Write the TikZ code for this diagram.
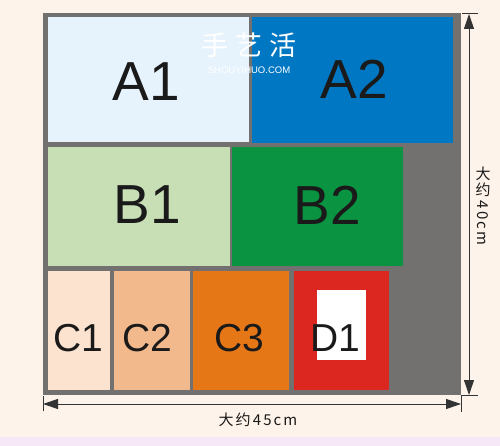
\documentclass[tikz,border=0pt]{standalone}
\usepackage{fontspec}
\setmainfont{Liberation Sans}
\newfontfamily\cjk{Noto Sans CJK SC}
\newfontfamily\cjksp{Noto Sans CJK SC}[LetterSpace=14]
\usetikzlibrary{arrows.meta}
\definecolor{bgc}{HTML}{FDF3EA}
\definecolor{bgstrip}{HTML}{F6E8F6}
\definecolor{grayc}{HTML}{737070}
\definecolor{aone}{HTML}{E6F3FC}
\definecolor{atwo}{HTML}{0077C2}
\definecolor{bone}{HTML}{C8DFB6}
\definecolor{btwo}{HTML}{0A9340}
\definecolor{cone}{HTML}{FBE3CF}
\definecolor{ctwo}{HTML}{F2B98D}
\definecolor{cthree}{HTML}{E67717}
\definecolor{done}{HTML}{DC2620}
\definecolor{txt}{HTML}{1A1A1A}
\definecolor{dimc}{HTML}{333333}
\tikzset{
  big/.style={text=txt, font=\fontsize{55}{55}\selectfont, inner sep=0pt},
  mid/.style={text=txt, font=\fontsize{39}{39}\selectfont, inner sep=0pt},
  dimline/.style={draw=dimc, line width=1pt},
  dimarrow/.style={dimline, {Triangle[length=15pt,width=10pt]}-{Triangle[length=15pt,width=10pt]}},
  dimlabel/.style={text=txt, font=\cjksp\fontsize{15}{17}\selectfont, inner sep=0pt}
}
\begin{document}
\begin{tikzpicture}[x=1pt,y=-1pt]
\useasboundingbox (0,0) rectangle (500,446);
\fill[bgc] (0,0) rectangle (500,446);
\fill[bgstrip] (0,437) rectangle (500,446);
% gray frame
\fill[grayc] (43,13) rectangle (461,395);
% blocks
\fill[aone] (48,17) rectangle (249,142);
\fill[atwo] (252,17) rectangle (453,143);
\fill[bone] (48,147) rectangle (230,266);
\fill[btwo] (232,147) rectangle (403,266);
\fill[cone] (48,271) rectangle (110,390);
\fill[ctwo] (114,271) rectangle (190,390);
\fill[cthree] (193,271) rectangle (289,390);
\fill[done] (294,271) rectangle (389,390);
\fill[white] (317,290) rectangle (366,360);
% labels
\node[big] (lA1) at (146,82) {A1};
\node[big] (lA2) at (354,79) {A2};
\node[big] (lB1) at (147,205) {B1};
\node[big] (lB2) at (327,205) {B2};
\node[mid] (lC1) at (78,338) {C1};
\node[mid] (lC2) at (147,338) {C2};
\node[mid] (lC3) at (239,338) {C3};
\node[mid] (lD1) at (335,338) {D1};
% watermark
\node[text=white, font=\cjk\fontsize{27}{27}\selectfont, inner sep=0pt] (wm) at (249,45) {手\hspace{7pt}艺\hspace{7pt}活};
\node[text=white, font=\fontsize{9.5}{9.5}\selectfont, inner sep=0pt] (wm2) at (249,70) {SHOUYIHUO.COM};
% dimension ticks
\coordinate (hl) at (43,404);
\coordinate (hr) at (461,404);
\coordinate (vt) at (469,14);
\coordinate (vb) at (469,395);
\draw[dimline, line width=0.6pt] (43,396) -- (43,411);
\draw[dimline, line width=0.6pt] (461,395) -- (461,412);
\draw[dimline, line width=0.6pt] (462,13) -- (478,13);
\draw[dimline, line width=0.6pt] (461,395) -- (478,395);
\draw[dimarrow] (hl) -- (hr);
\draw[dimarrow] (vt) -- (vb);
\node[dimlabel] (w) at (258,420) {大约45cm};
\node[dimlabel] (h1) at (483,174) {大};
\node[dimlabel] (h2) at (483,190) {约};
\node[dimlabel, rotate=-90] (h3) at (483,223) {40cm};
\end{tikzpicture}
\end{document}
